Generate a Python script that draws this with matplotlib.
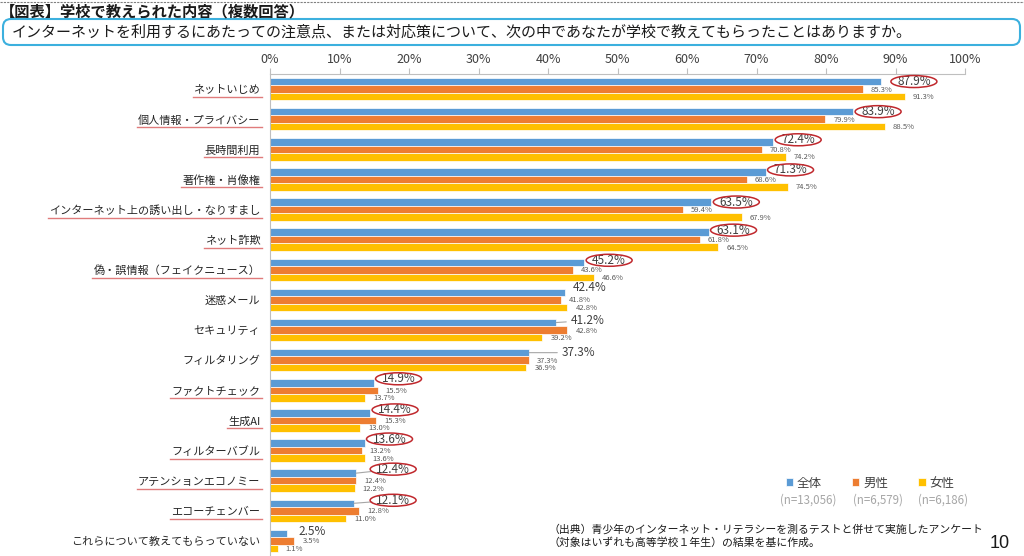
import matplotlib
matplotlib.use('Agg')
import matplotlib.pyplot as plt
from matplotlib.patches import Ellipse, FancyBboxPatch
from matplotlib.lines import Line2D
import matplotlib.transforms as mtransforms
import numpy as np

plt.rcParams['font.family'] = ['Noto Sans CJK JP', 'DejaVu Sans']

# ---------------- data ----------------
categories = ['ネットいじめ', '個人情報・プライバシー', '長時間利用', '著作権・肖像権',
              'インターネット上の誘い出し・なりすまし', 'ネット詐欺', '偽・誤情報（フェイクニュース）',
              '迷惑メール', 'セキュリティ', 'フィルタリング', 'ファクトチェック', '生成AI',
              'フィルターバブル', 'アテンションエコノミー', 'エコーチェンバー',
              'これらについて教えてもらっていない']
total = [87.9, 83.9, 72.4, 71.3, 63.5, 63.1, 45.2, 42.4, 41.2, 37.3, 14.9, 14.4, 13.6, 12.4, 12.1, 2.5]
male = [85.3, 79.9, 70.8, 68.6, 59.4, 61.8, 43.6, 41.8, 42.8, 37.3, 15.5, 15.3, 13.2, 12.4, 12.8, 3.5]
female = [91.3, 88.5, 74.2, 74.5, 67.9, 64.5, 46.6, 42.8, 39.2, 36.9, 13.7, 13.0, 13.6, 12.2, 11.0, 1.1]
highlight = [True, True, True, True, True, True, True, False, False, False,
             True, True, True, True, True, False]
series_names = ['全体', '男性', '女性']
sample_sizes = ['(n=13,056)', '(n=6,579)', '(n=6,186)']
xticks = list(range(0, 101, 10))

title = '【図表】学校で教えられた内容（複数回答）'
question = 'インターネットを利用するにあたっての注意点、または対応策について、次の中であなたが学校で教えてもらったことはありますか。'
source = '（出典）青少年のインターネット・リテラシーを測るテストと併せて実施したアンケート\n（対象はいずれも高等学校１年生）の結果を基に作成。'
page_no = '10'

# ---------------- style ----------------
C_BLUE = '#5B9BD5'
C_ORANGE = '#ED7D31'
C_YELLOW = '#FFC000'
TXT = '#404040'

W_PX, H_PX = 1024, 556
fig = plt.figure(figsize=(W_PX / 100, H_PX / 100), dpi=100)
ax = fig.add_axes([270 / W_PX, 0, 695 / W_PX, 1 - 74 / H_PX])

n = len(categories)
y = np.arange(n)
h = 0.25
b1 = ax.barh(y - h, total, height=h, color=C_BLUE, edgecolor='white', linewidth=0.5)
b2 = ax.barh(y, male, height=h, color=C_ORANGE, edgecolor='white', linewidth=0.5)
b3 = ax.barh(y + h, female, height=h, color=C_YELLOW, edgecolor='white', linewidth=0.5)

ax.set_xlim(0, 100)
ax.set_ylim(n - 0.5, -0.5)
ax.xaxis.tick_top()
ax.set_xticks(xticks)
ax.set_xticklabels([f'{t}%' for t in xticks])
ax.tick_params(axis='x', length=4, color='#BFBFBF', pad=2, labelsize=9, labelcolor=TXT)
ax.set_yticks(y)
ax.set_yticklabels(categories)
ax.tick_params(axis='y', length=0, pad=7, labelsize=8, labelcolor='#262626')
for s in ['bottom', 'right']:
    ax.spines[s].set_visible(False)
for s in ['top', 'left']:
    ax.spines[s].set_color('#BFBFBF')
    ax.spines[s].set_linewidth(0.8)

px2pt = 72 / 100
label_shift_px = {0: 33, 8: 31, 9: 49, 13: 37, 14: 39}
label_raise_px = {2: 2, 3: 2, 5: 2, 6: 2, 7: 5, 8: 2, 10: 4, 11: 3, 12: 4, 13: 4, 14: 3, 15: 2}
leaders = {8, 9, 13, 14}

for i, v in enumerate(total):
    dx = label_shift_px.get(i, 25)
    dy = label_raise_px.get(i, 0)
    yy = i - h
    kw = dict(xy=(v, yy), xytext=(dx * px2pt, dy * px2pt), textcoords='offset points',
              ha='center', va='center', fontsize=8.5, color=TXT, annotation_clip=False)
    if i in leaders:
        kw['arrowprops'] = dict(arrowstyle='-', color='#A6A6A6', lw=0.8, shrinkA=1, shrinkB=0)
    ax.annotate(f'{v:.1f}%', **kw)
    if highlight[i]:
        tr = fig.dpi_scale_trans + mtransforms.ScaledTranslation(v, yy, ax.transData)
        e = Ellipse((dx / 100, dy / 100), 46 / 100, 12 / 100, transform=tr, fill=False,
                    edgecolor='#C0282D', lw=1.1)
        fig.add_artist(e)

for vals, off in [(male, 0), (female, h)]:
    for i, v in enumerate(vals):
        ax.annotate(f'{v:.1f}%', xy=(v, i + off), xytext=(8 * px2pt, -0.5 * px2pt),
                    textcoords='offset points', ha='left', va='center',
                    fontsize=5.5, color='#595959', annotation_clip=False)

# ---------------- header ----------------
fig.add_artist(Line2D([0, 1], [1 - 1.5 / H_PX] * 2, transform=fig.transFigure,
                      color='#808080', lw=0.8, ls=(0, (2, 1))))
fig.text(0 / W_PX, 1 - 11 / H_PX, title, fontsize=11, fontweight='bold',
         ha='left', va='center', color='#1a1a1a')
box = FancyBboxPatch((0.03, (H_PX - 45) / 100), 10.17, 0.26,
                     boxstyle='round,pad=0,rounding_size=0.08',
                     transform=fig.dpi_scale_trans, fill=False,
                     edgecolor='#3CB0DE', lw=1.5)
fig.add_artist(box)
fig.text(12 / W_PX, 1 - 32 / H_PX, question, fontsize=10.8, ha='left', va='center',
         color='#1a1a1a')

# ---------------- legend ----------------
fig.legend(handles=[b1, b2, b3], labels=series_names, loc='center',
           bbox_to_anchor=(870 / W_PX, 1 - 483 / H_PX), ncol=3, frameon=False,
           fontsize=9, handlelength=0.6, handleheight=0.6, handletextpad=0.3,
           columnspacing=2.4, labelcolor=TXT)
for xc, s in zip([808, 878, 943], sample_sizes):
    fig.text(xc / W_PX, 1 - 500 / H_PX, s, fontsize=8.3, color='#A6A6A6',
             ha='center', va='center')

fig.text(549 / W_PX, 1 - 536 / H_PX, source, fontsize=7.8, color='#1a1a1a',
         ha='left', va='center', linespacing=1.3)
fig.text(1000 / W_PX, 1 - 543 / H_PX, page_no, fontsize=13, color='#1a1a1a',
         ha='center', va='center', family=['Liberation Sans', 'DejaVu Sans'])

# ---------------- underlines ----------------
fig.canvas.draw()
renderer = fig.canvas.get_renderer()
for lab, hl in zip(ax.get_yticklabels(), highlight):
    if hl:
        bb = lab.get_window_extent(renderer)
        cy = (bb.y0 + bb.y1) / 2
        yl = (cy - 7) / fig.bbox.height
        fig.add_artist(Line2D([(bb.x0 - 1) / fig.bbox.width, (bb.x1 + 2) / fig.bbox.width],
                              [yl, yl], transform=fig.transFigure,
                              color='#E07B7B', lw=1.0))

fig.savefig('out.png', dpi=100)
